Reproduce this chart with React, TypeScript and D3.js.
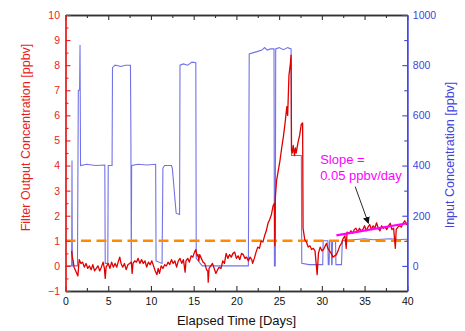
import React, { useEffect, useRef } from 'react';
import * as d3 from 'd3';

// input concentration [day, ppbv] (right axis)
const inputSeries: [number, number][] = [
  [0, 0], [0.72, 0], [0.76, 420], [0.8, 0], [1.4, 0], [1.5, 700], [1.65, 700], [1.7, 880], [1.76, 400],
  [2.5, 405], [3.5, 400], [4.6, 402], [4.65, 10], [4.95, 10], [5.0, 400], [5.45, 400], [5.5, 790],
  [5.8, 800], [6.5, 795], [7.0, 800], [7.6, 800], [7.65, 540], [7.7, 10], [7.74, 400], [8.5, 405],
  [9.5, 402], [10.55, 405], [10.6, 20], [11.3, 10], [11.4, 390], [11.6, 400], [12.4, 400], [12.5, 390],
  [12.95, 210], [13.35, 205], [13.4, 800], [13.8, 805], [14.3, 800], [14.8, 812], [15.25, 810],
  [15.3, 30], [16, 0], [21.4, 0], [21.5, 845], [22, 850], [22.5, 855], [23, 860], [23.3, 870],
  [23.6, 860], [24, 865], [24.4, 865], [24.45, 0], [24.55, 0], [24.6, 865], [25, 870], [25.5, 862],
  [26, 870], [26.4, 865], [26.45, 440], [27.0, 440], [27.6, 440], [27.65, 10], [28.5, 5], [30.1, 5],
  [30.15, 100], [30.7, 100], [30.75, 5], [30.85, 5], [30.9, 100], [31.1, 100], [31.15, 5], [31.2, 5],
  [31.25, 100], [31.6, 100], [31.65, 5], [32.3, 5], [32.4, 100], [33, 102], [34, 105], [35, 108],
  [36, 104], [37, 106], [38, 108], [39, 105], [40, 106],
];

// filter output concentration [day, ppbv] (left axis)
const outputSeries: [number, number][] = [
  [0.72, 0.6], [0.8, 0.35], [0.9, 0.2], [1.0, -0.05], [1.2, -0.2], [1.45, -0.4], [1.6, 0.25], [1.8, 0.1],
  [2.0, 0.15], [2.2, -0.05], [2.4, 0.1], [2.6, -0.1], [2.8, 0.0], [3.0, -0.15], [3.2, 0.05], [3.4, -0.2],
  [3.6, -0.1], [3.8, 0.0], [4.0, -0.2], [4.2, -0.05], [4.4, 0.15], [4.55, -0.1], [4.65, -0.5],
  [4.75, -0.05], [5.0, 0.1], [5.2, -0.1], [5.4, 0.15], [5.6, -0.05], [5.8, 0.1], [6.0, -0.05],
  [6.2, 0.2], [6.35, 0.35], [6.5, 0.1], [6.7, -0.05], [6.9, 0.1], [7.1, -0.15], [7.3, 0.05], [7.5, 0.1],
  [7.7, 0.15], [7.8, -0.3], [7.9, 0.1], [8.1, 0.2], [8.3, 0.15], [8.5, 0.3], [8.7, 0.1], [8.9, 0.25],
  [9.1, 0.1], [9.3, 0.2], [9.5, -0.05], [9.7, 0.15], [9.9, 0.05], [10.1, 0.2], [10.3, 0.0], [10.5, -0.2],
  [10.7, -0.35], [10.85, -0.1], [11.0, -0.3], [11.2, 0.0], [11.4, -0.1], [11.6, 0.05], [11.8, 0.0],
  [12.0, 0.15], [12.2, 0.05], [12.4, 0.25], [12.6, 0.1], [12.8, 0.2], [13.0, -0.05], [13.2, 0.2],
  [13.4, 0.3], [13.6, 0.1], [13.8, 0.25], [14.0, -0.25], [14.1, 0.2], [14.3, 0.3], [14.5, 0.15],
  [14.7, 0.4], [14.9, 0.35], [15.1, 0.55], [15.25, 0.65], [15.4, 0.4], [15.5, 0.45], [15.6, 0.2],
  [15.7, 0.45], [15.9, 0.3], [16.1, 0.15], [16.3, 0.1], [16.5, -0.15], [16.65, -0.2], [16.7, -0.65],
  [16.8, -0.1], [17.0, 0.0], [17.2, 0.1], [17.4, -0.1], [17.6, -0.3], [17.8, -0.15], [18.0, -0.05],
  [18.2, -0.1], [18.4, 0.2], [18.6, 0.1], [18.8, 0.5], [19.0, 0.3], [19.2, 0.45], [19.4, 0.35],
  [19.6, 0.5], [19.8, 0.55], [20.0, 0.3], [20.2, 0.4], [20.4, 0.25], [20.6, 0.5], [20.8, 0.45],
  [21.0, 0.3], [21.2, 0.35], [21.4, 0.2], [21.6, 0.35], [21.8, 0.25], [21.9, 0.1], [22.1, 0.3],
  [22.3, 0.55], [22.5, 0.75], [22.7, 0.7], [22.9, 1.0], [23.1, 0.95], [23.3, 1.2], [23.5, 1.4],
  [23.7, 1.7], [23.9, 1.85], [24.1, 2.05], [24.3, 2.4], [24.45, 2.5], [24.5, 0.8], [24.55, 2.7],
  [24.7, 3.4], [24.9, 3.8], [25.1, 4.2], [25.3, 4.7], [25.5, 5.15], [25.7, 5.7], [25.9, 6.35],
  [26.0, 6.0], [26.15, 7.6], [26.3, 8.0], [26.4, 8.4], [26.45, 4.6], [26.55, 4.5], [26.65, 4.8],
  [26.8, 4.4], [26.9, 4.7], [27.0, 4.5], [27.2, 4.9], [27.4, 5.2], [27.6, 5.65], [27.75, 5.7],
  [27.8, 1.5], [28.0, 1.05], [28.2, 0.95], [28.4, 0.75], [28.6, 0.8], [28.8, 0.65], [29.0, 0.7],
  [29.2, 0.6], [29.45, -0.35], [29.6, 0.5], [29.8, 0.75], [30.0, 0.6], [30.2, 0.65], [30.4, 0.8],
  [30.55, 0.9], [30.7, 0.7], [30.9, 0.6], [31.1, 0.5], [31.3, 0.35], [31.5, 0.4], [31.7, 0.45],
  [31.9, 0.6], [32.1, 0.8], [32.3, 0.9], [32.5, 1.1], [32.7, 1.2], [32.85, 0.7], [32.95, 1.35],
  [33.2, 1.3], [33.4, 1.4], [33.6, 1.3], [33.8, 1.45], [34.0, 1.5], [34.2, 1.35], [34.4, 1.5],
  [34.6, 1.4], [34.8, 1.45], [35.0, 1.6], [35.2, 1.4], [35.4, 1.55], [35.6, 1.65], [35.8, 1.45],
  [36.0, 1.6], [36.2, 1.5], [36.4, 1.72], [36.6, 1.5], [36.8, 1.4], [37.0, 1.6], [37.2, 1.5],
  [37.4, 1.55], [37.6, 1.45], [37.8, 1.6], [38.0, 1.7], [38.2, 1.45], [38.4, 1.5], [38.6, 0.7],
  [38.7, 1.45], [38.9, 1.55], [39.1, 1.6], [39.3, 1.55], [39.5, 1.7], [39.7, 1.8], [39.9, 1.65],
  [40, 1.7],
];

// linear fit over the last days
const fitDays = [31.7, 40];
const fitValues = [1.22, 1.7];
const threshold = 1;

const xTicks = [0, 5, 10, 15, 20, 25, 30, 35, 40];
const xMinor = [2.5, 7.5, 12.5, 17.5, 22.5, 27.5, 32.5, 37.5];
const leftTicks = [-1, 0, 1, 2, 3, 4, 5, 6, 7, 8, 9, 10];
const leftMinor = [-0.5, 0.5, 1.5, 2.5, 3.5, 4.5, 5.5, 6.5, 7.5, 8.5, 9.5];
const rightTicks = [0, 200, 400, 600, 800, 1000];
const rightMinor = [100, 300, 500, 700, 900];

const FONT = "'Liberation Sans', Arial, sans-serif";
const RED = '#e81e1e';
const BLUE = '#4444dd';
const DARK = '#333333';

const App = () => {
  const ref = useRef<SVGSVGElement>(null);

  useEffect(() => {
    const svg = d3.select(ref.current);
    svg.selectAll('*').remove();

    const x = d3.scaleLinear().domain([0, 40]).range([65.5, 407.3]);
    const yL = d3.scaleLinear().domain([-1, 10]).range([291, 15]);
    const yR = d3.scaleLinear().domain([-100, 1000]).range([291, 15]);

    svg.append('defs').append('marker')
      .attr('id', 'arrow')
      .attr('viewBox', '0 0 10 10')
      .attr('refX', 9).attr('refY', 5)
      .attr('markerWidth', 7).attr('markerHeight', 7)
      .attr('markerUnits', 'userSpaceOnUse')
      .attr('orient', 'auto')
      .append('path').attr('d', 'M0,0 L10,5 L0,10 z').attr('fill', '#111');

    // input (blue)
    const blueLine = d3.line<[number, number]>().x(d => x(d[0])).y(d => yR(d[1]));
    svg.append('path')
      .attr('d', blueLine(inputSeries))
      .attr('fill', 'none')
      .attr('stroke', '#7272e6')
      .attr('stroke-width', 1.1);

    // 1 ppbv threshold
    svg.append('line')
      .attr('x1', x(0)).attr('x2', x(40))
      .attr('y1', yL(threshold)).attr('y2', yL(threshold))
      .attr('stroke', '#ff8a00')
      .attr('stroke-width', 2.6)
      .attr('stroke-dasharray', '10,5.5');

    // output (red)
    const redLine = d3.line<[number, number]>().x(d => x(d[0])).y(d => yL(d[1]));
    svg.append('path')
      .attr('d', redLine(outputSeries))
      .attr('fill', 'none')
      .attr('stroke', '#e00000')
      .attr('stroke-width', 1.3)
      .attr('stroke-linejoin', 'round');

    // fit
    svg.append('line')
      .attr('x1', x(fitDays[0])).attr('y1', yL(fitValues[0]))
      .attr('x2', x(fitDays[1])).attr('y2', yL(fitValues[1]))
      .attr('stroke', '#ff00ff')
      .attr('stroke-width', 2.2);

    // annotation
    const note = svg.append('text')
      .attr('x', x(29.8)).attr('y', yL(4.05))
      .attr('fill', '#ff00ff')
      .style('font-family', FONT)
      .style('font-size', '13px');
    note.append('tspan').text('Slope =');
    note.append('tspan').attr('x', x(29.8)).attr('dy', 15.5).text('0.05 ppbv/day');

    svg.append('line')
      .attr('x1', x(33.9)).attr('y1', yL(3.16))
      .attr('x2', x(35.45)).attr('y2', yL(1.7))
      .attr('stroke', '#111')
      .attr('stroke-width', 0.9)
      .attr('marker-end', 'url(#arrow)');

    const styleAxis = (g: any, color: string, textColor: string) => {
      g.select('.domain').attr('stroke', color).attr('stroke-width', 1.3);
      g.selectAll('.tick line').attr('stroke', color).attr('stroke-width', 1.1);
      g.selectAll('.tick text').attr('fill', textColor)
        .style('font-family', FONT).style('font-size', '10.5px');
    };

    // top frame
    const top = svg.append('g').attr('transform', `translate(0,${yL(10)})`)
      .call(d3.axisTop(x).tickValues(xTicks).tickSize(-5).tickSizeOuter(0).tickFormat(() => ''));
    styleAxis(top, DARK, DARK);
    const topMinor = svg.append('g').attr('transform', `translate(0,${yL(10)})`)
      .call(d3.axisTop(x).tickValues(xMinor).tickSize(-3).tickSizeOuter(0).tickFormat(() => ''));
    styleAxis(topMinor, DARK, DARK);

    // bottom
    const bottom = svg.append('g').attr('transform', `translate(0,${yL(-1)})`)
      .call(d3.axisBottom(x).tickValues(xTicks).tickSize(-5).tickSizeOuter(0).tickPadding(7));
    styleAxis(bottom, DARK, '#111');
    const bottomMinor = svg.append('g').attr('transform', `translate(0,${yL(-1)})`)
      .call(d3.axisBottom(x).tickValues(xMinor).tickSize(-3).tickSizeOuter(0).tickFormat(() => ''));
    styleAxis(bottomMinor, DARK, DARK);

    // left
    const left = svg.append('g').attr('transform', `translate(${x(0)},0)`)
      .call(d3.axisLeft(yL).tickValues(leftTicks).tickSize(-5).tickSizeOuter(0).tickPadding(5.5));
    styleAxis(left, RED, RED);
    const leftM = svg.append('g').attr('transform', `translate(${x(0)},0)`)
      .call(d3.axisLeft(yL).tickValues(leftMinor).tickSize(-3).tickSizeOuter(0).tickFormat(() => ''));
    styleAxis(leftM, RED, RED);

    // right
    const right = svg.append('g').attr('transform', `translate(${x(40)},0)`)
      .call(d3.axisRight(yR).tickValues(rightTicks).tickSize(-5).tickSizeOuter(0).tickPadding(5.5)
        .tickFormat(d3.format('d')));
    styleAxis(right, BLUE, BLUE);
    const rightM = svg.append('g').attr('transform', `translate(${x(40)},0)`)
      .call(d3.axisRight(yR).tickValues(rightMinor).tickSize(-3).tickSizeOuter(0).tickFormat(() => ''));
    styleAxis(rightM, BLUE, BLUE);

    // titles
    svg.append('text')
      .attr('transform', 'translate(30,137.5) rotate(-90)')
      .attr('text-anchor', 'middle')
      .attr('fill', RED)
      .style('font-family', FONT).style('font-size', '12.5px')
      .text('Filter Output Concentration [ppbv]');

    svg.append('text')
      .attr('transform', 'translate(454,155) rotate(-90)')
      .attr('text-anchor', 'middle')
      .attr('fill', BLUE)
      .style('font-family', FONT).style('font-size', '12.5px')
      .text('Input Concentration [ppbv]');

    svg.append('text')
      .attr('x', 236.5).attr('y', 325)
      .attr('text-anchor', 'middle')
      .attr('fill', '#111')
      .style('font-family', FONT).style('font-size', '13px')
      .text('Elapsed Time [Days]');
  }, []);

  return (
    <svg ref={ref} width={465} height={331}
      style={{ position: 'absolute', left: 0, top: 0, background: '#fff' }} />
  );
};

export default App;
